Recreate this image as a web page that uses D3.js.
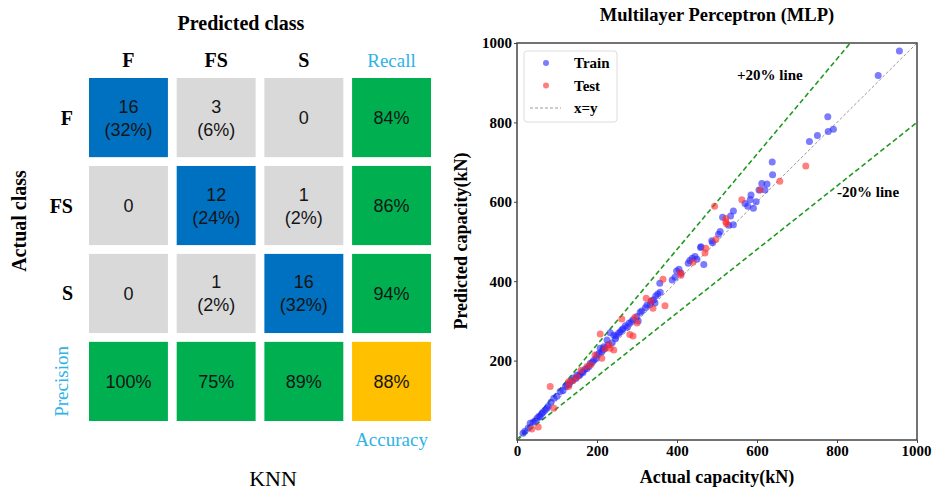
<!DOCTYPE html>
<html>
<head>
<meta charset="utf-8">
<script src="https://cdn.jsdelivr.net/npm/d3@7"></script>
<style>
  html, body { margin: 0; padding: 0; background: #fff; }
  svg { display: block; }
</style>
</head>
<body>
<svg id="chart" width="932" height="491"></svg>
<script>
// ---- Confusion matrix (KNN) ----
const classes = ["F", "FS", "S"];
const counts = [
  [16, 3, 0],
  [0, 12, 1],
  [0, 1, 16]
];
const percentLabels = [
  ["32%", "6%", ""],
  ["", "24%", "2%"],
  ["", "2%", "32%"]
];
const recallLabels = ["84%", "86%", "94%"];
const precisionLabels = ["100%", "75%", "89%"];
const accuracyLabel = "88%";

// ---- MLP capacity predictions (kN): [actual, predicted] ----
const trainPoints = [
  [956,980],[903,918],[777,814],[778,777],[791,783],[751,767],[731,752],[638,700],[639,668],
  [612,646],[625,645],[605,630],[620,630],[585,617],[570,596],[577,589],[583,605],[591,584],
  [598,600],[541,577],[534,564],[514,561],[529,541],[541,542],[508,525],[504,518],[487,502],
  [489,497],[460,487],[459,485],[438,458],[467,442],[445,462],[432,452],[450,455],[428,445],
  [399,426],[405,430],[410,420],[388,403],[395,410],[357,395],[358,372],[347,363],[352,368],
  [341,353],[345,345],[333,341],[336,350],[321,333],[325,340],[308,322],[312,325],[300,311],
  [303,300],[290,303],[286,298],[280,294],[276,284],[271,288],[265,280],[262,277],[258,272],
  [254,269],[248,262],[242,264],[246,255],[233,270],[238,245],[225,252],[228,240],[220,232],
  [217,235],[215,228],[212,222],[208,231],[205,218],[200,214],[198,205],[192,201],[188,196],
  [183,193],[180,185],[175,180],[170,178],[165,170],[163,172],[158,165],[155,162],[150,164],
  [147,155],[142,156],[138,150],[133,147],[130,140],[125,138],[121,135],[115,125],[108,122],
  [100,110],[92,105],[85,95],[78,85],[75,80],[70,75],[65,70],[62,67],[58,58],[55,60],[50,55],
  [45,48],[40,45],[33,42],[28,30],[20,22],[15,17]
];
const testPoints = [
  [722,690],[657,652],[608,630],[562,605],[494,589],[522,558],[522,550],[524,545],[497,505],
  [472,483],[470,471],[440,448],[365,405],[408,421],[370,338],[340,332],[323,357],[295,309],
  [290,262],[282,266],[262,305],[242,227],[233,231],[208,267],[212,206],[195,214],[160,176],
  [150,159],[129,147],[129,135],[83,135],[92,80],[53,33],[37,28],[185,190],[175,185],
  [220,230],[140,150],[300,295],[335,350],[410,415],[230,240]
];
const axisTicks = [0, 200, 400, 600, 800, 1000];

const svg = d3.select("#chart");
const serif = "'Liberation Serif', 'Times New Roman', serif";
const sans = "'Liberation Sans', Arial, sans-serif";

// ================= Confusion matrix =================
const cm = svg.append("g");
const colKeys = [...classes, "Recall"];
const rowKeys = [...classes, "Precision"];
const cx = d3.scaleBand().domain(colKeys).range([89, 431]).paddingInner(0.1);
const cy = d3.scaleBand().domain(rowKeys).range([78, 421]).paddingInner(0.1);

const cells = [];
counts.forEach((row, i) => row.forEach((v, j) => {
  const p = percentLabels[i][j];
  const lines = p ? [String(v), "(" + p + ")"] : [String(v)];
  cells.push({ r: classes[i], c: classes[j], fill: i === j ? "#0070c0" : "#d9d9d9", lines });
}));
classes.forEach((k, i) => cells.push({ r: k, c: "Recall", fill: "#00b050", lines: [recallLabels[i]] }));
classes.forEach((k, j) => cells.push({ r: "Precision", c: k, fill: "#00b050", lines: [precisionLabels[j]] }));
cells.push({ r: "Precision", c: "Recall", fill: "#ffc000", lines: [accuracyLabel] });

const cellG = cm.selectAll("g.cell").data(cells).join("g").attr("class", "cell");
cellG.append("rect")
  .attr("x", d => cx(d.c)).attr("y", d => cy(d.r))
  .attr("width", cx.bandwidth()).attr("height", cy.bandwidth())
  .attr("fill", d => d.fill);
cellG.each(function(d) {
  const g = d3.select(this);
  const mx = cx(d.c) + cx.bandwidth() / 2;
  const my = cy(d.r) + cy.bandwidth() / 2;
  const n = d.lines.length;
  d.lines.forEach((t, k) => {
    g.append("text")
      .attr("x", mx).attr("y", my + (k - (n - 1) / 2) * 23)
      .attr("dy", "0.36em").attr("text-anchor", "middle")
      .attr("font-family", sans).attr("font-size", 18).attr("fill", "#151515")
      .text(t);
  });
});

// column headers
cm.selectAll("text.colh").data(classes).join("text").attr("class", "colh")
  .attr("x", d => cx(d) + cx.bandwidth() / 2).attr("y", 67)
  .attr("text-anchor", "middle").attr("font-family", serif).attr("font-weight", "bold")
  .attr("font-size", 20).attr("fill", "#000").text(d => d);
cm.append("text").attr("x", cx("Recall") + cx.bandwidth() / 2).attr("y", 67)
  .attr("text-anchor", "middle").attr("font-family", serif).attr("font-size", 19)
  .attr("fill", "#2fb2e6").text("Recall");
// row headers
cm.selectAll("text.rowh").data(classes).join("text").attr("class", "rowh")
  .attr("x", 73).attr("y", d => cy(d) + cy.bandwidth() / 2).attr("dy", "0.35em")
  .attr("text-anchor", "end").attr("font-family", serif).attr("font-weight", "bold")
  .attr("font-size", 20).attr("fill", "#000").text(d => d);
cm.append("text")
  .attr("transform", `translate(68,${cy("Precision") + cy.bandwidth() / 2}) rotate(-90)`)
  .attr("text-anchor", "middle").attr("font-family", serif).attr("font-size", 19)
  .attr("fill", "#2fb2e6").text("Precision");
cm.append("text").attr("x", cx("Recall") + cx.bandwidth() / 2).attr("y", 446)
  .attr("text-anchor", "middle").attr("font-family", serif).attr("font-size", 19)
  .attr("fill", "#2fb2e6").text("Accuracy");
cm.append("text").attr("x", 241).attr("y", 30)
  .attr("text-anchor", "middle").attr("font-family", serif).attr("font-weight", "bold")
  .attr("font-size", 20).attr("fill", "#000").text("Predicted class");
cm.append("text").attr("transform", "translate(26,221) rotate(-90)")
  .attr("text-anchor", "middle").attr("font-family", serif).attr("font-weight", "bold")
  .attr("font-size", 20).attr("fill", "#000").text("Actual class");
cm.append("text").attr("x", 273).attr("y", 486)
  .attr("text-anchor", "middle").attr("font-family", serif).attr("font-size", 22)
  .attr("fill", "#000").text("KNN");

// ================= MLP scatter =================
const sx = d3.scaleLinear().domain([0, 1000]).range([517, 917]);
const sy = d3.scaleLinear().domain([0, 1000]).range([440, 43]);
const sp = svg.append("g");

sp.append("defs").append("clipPath").attr("id", "plotClip")
  .append("rect").attr("x", sx(0)).attr("y", sy(1000))
  .attr("width", sx(1000) - sx(0)).attr("height", sy(0) - sy(1000));

const plot = sp.append("g").attr("clip-path", "url(#plotClip)");
const ref = [
  { k: 1.2, color: "#1f9a1f", w: 1.6, dash: "5,3" },
  { k: 0.8, color: "#1f9a1f", w: 1.6, dash: "5,3" },
  { k: 1.0, color: "#9a9a9a", w: 1, dash: "3,2" }
];
plot.selectAll("line.ref").data(ref).join("line").attr("class", "ref")
  .attr("x1", sx(0)).attr("y1", sy(0))
  .attr("x2", sx(1000)).attr("y2", d => sy(1000 * d.k))
  .attr("stroke", d => d.color).attr("stroke-width", d => d.w)
  .attr("stroke-dasharray", d => d.dash);

plot.selectAll("circle.train").data(trainPoints).join("circle").attr("class", "train")
  .attr("cx", d => sx(d[0])).attr("cy", d => sy(d[1])).attr("r", 3.5)
  .attr("fill", "#2525ff").attr("fill-opacity", 0.6);
plot.selectAll("circle.test").data(testPoints).join("circle").attr("class", "test")
  .attr("cx", d => sx(d[0])).attr("cy", d => sy(d[1])).attr("r", 3.5)
  .attr("fill", "#ff2a2a").attr("fill-opacity", 0.6);

// axes
const fmt = d3.format("d");
const xAxis = d3.axisBottom(sx).tickValues(axisTicks).tickFormat(fmt).tickSize(3).tickPadding(2);
const yAxis = d3.axisLeft(sy).tickValues(axisTicks.slice(1)).tickFormat(fmt).tickSize(3).tickPadding(2);
const gx = sp.append("g").attr("transform", `translate(0,${sy(0)})`).call(xAxis);
const gy = sp.append("g").attr("transform", `translate(${sx(0)},0)`).call(yAxis);
[gx, gy].forEach(g => {
  g.select(".domain").remove();
  g.selectAll(".tick line").attr("stroke", "#444");
  g.selectAll(".tick text").attr("font-family", serif).attr("font-weight", "bold")
    .attr("font-size", 15).attr("fill", "#000");
});
// keep the last x tick label inside the canvas
gx.selectAll(".tick text").filter(d => d === 1000).attr("text-anchor", "end").attr("dx", "14");

sp.append("rect").attr("x", sx(0)).attr("y", sy(1000))
  .attr("width", sx(1000) - sx(0)).attr("height", sy(0) - sy(1000))
  .attr("fill", "none").attr("stroke", "#444").attr("stroke-width", 1.5);

// legend
const lg = sp.append("g");
lg.append("rect").attr("x", 524).attr("y", 51).attr("width", 93).attr("height", 71)
  .attr("rx", 3).attr("fill", "#fff").attr("stroke", "#ddd");
const legendItems = [
  { label: "Train", type: "dot", color: "#2525ff" },
  { label: "Test", type: "dot", color: "#ff2a2a" },
  { label: "x=y", type: "line", color: "#9a9a9a" }
];
legendItems.forEach((it, i) => {
  const y = 63 + i * 22.5;
  if (it.type === "dot") {
    lg.append("circle").attr("cx", 546).attr("cy", y).attr("r", 3)
      .attr("fill", it.color).attr("fill-opacity", 0.6);
  } else {
    lg.append("line").attr("x1", 530).attr("x2", 561).attr("y1", y).attr("y2", y)
      .attr("stroke", it.color).attr("stroke-width", 1).attr("stroke-dasharray", "3,2");
  }
  lg.append("text").attr("x", 574).attr("y", y).attr("dy", "0.35em")
    .attr("font-family", serif).attr("font-weight", "bold").attr("font-size", 15)
    .attr("fill", "#000").text(it.label);
});

sp.append("text").attr("x", 737).attr("y", 80)
  .attr("font-family", serif).attr("font-weight", "bold").attr("font-size", 15)
  .attr("fill", "#000").text("+20% line");
sp.append("text").attr("x", 837).attr("y", 197)
  .attr("font-family", serif).attr("font-weight", "bold").attr("font-size", 15)
  .attr("fill", "#000").text("-20% line");

sp.append("text").attr("x", 717).attr("y", 21).attr("text-anchor", "middle")
  .attr("font-family", serif).attr("font-weight", "bold").attr("font-size", 18.5)
  .attr("fill", "#000").text("Multilayer Perceptron (MLP)");
sp.append("text").attr("x", 717).attr("y", 483).attr("text-anchor", "middle")
  .attr("font-family", serif).attr("font-weight", "bold").attr("font-size", 18)
  .attr("fill", "#000").text("Actual capacity(kN)");
sp.append("text").attr("transform", "translate(467,241) rotate(-90)")
  .attr("text-anchor", "middle")
  .attr("font-family", serif).attr("font-weight", "bold").attr("font-size", 18)
  .attr("fill", "#000").text("Predicted capacity(kN)");
</script>
</body>
</html>
